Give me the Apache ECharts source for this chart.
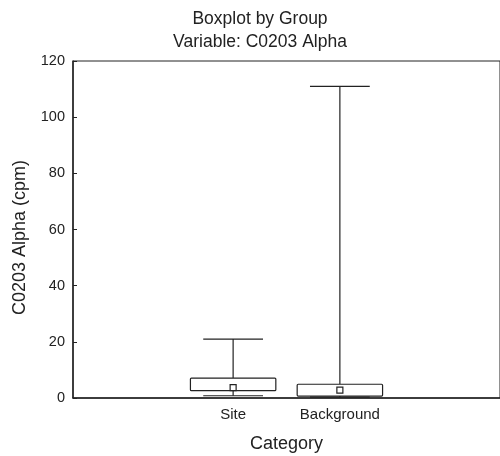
<!DOCTYPE html>
<html><head><meta charset="utf-8">
<script src="https://cdn.jsdelivr.net/npm/echarts@6/dist/echarts.min.js"></script>
<style>html,body{margin:0;padding:0;background:#fff}#c{width:500px;height:456px}</style>
</head><body><div id="c"></div>
<script>
var categories = ['', 'Site', 'Background', ''];
var yTicks = [0, 20, 40, 60, 80, 100, 120];
// [categoryIndex, min, q1, median, q3, max]
var siteStats = [1, 0.8, 2.6, 3.7, 7.1, 21];
var backgroundStats = [2, 0.3, 0.7, 2.8, 4.9, 111];

var chart = echarts.init(document.getElementById('c'));
var font = 'Liberation Sans, Arial, sans-serif';
function renderBox(params, api) {
  var x = api.value(0);
  var band = api.size([1, 0])[0];
  var pMin = api.coord([x, api.value(1)]);
  var pQ1 = api.coord([x, api.value(2)]);
  var pMed = api.coord([x, api.value(3)]);
  var pQ3 = api.coord([x, api.value(4)]);
  var pMax = api.coord([x, api.value(5)]);
  var bw = band * 0.8, cw = band * 0.56, cx = pMin[0];
  var st = {stroke: '#222', lineWidth: 1.2, fill: null};
  return {type: 'group', children: [
    {type: 'line', shape: {x1: cx, y1: pMin[1], x2: cx, y2: pQ1[1]}, style: st},
    {type: 'line', shape: {x1: cx, y1: pQ3[1], x2: cx, y2: pMax[1]}, style: st},
    {type: 'line', shape: {x1: cx - cw/2, y1: pMax[1], x2: cx + cw/2, y2: pMax[1]}, style: st},
    {type: 'line', shape: {x1: cx - cw/2, y1: pMin[1], x2: cx + cw/2, y2: pMin[1]}, style: st},
    {type: 'rect', shape: {x: cx - bw/2, y: pQ3[1], width: bw, height: pQ1[1] - pQ3[1], r: 1}, style: {stroke: '#222', lineWidth: 1.2, fill: '#fff'}},
    {type: 'rect', shape: {x: cx - 3, y: pMed[1] - 3, width: 6, height: 6}, style: {stroke: '#222', lineWidth: 1.2, fill: '#fff'}}
  ]};
}
chart.setOption({
  animation: false,
  textStyle: {fontFamily: font},
  title: {
    text: 'Boxplot by Group\nVariable: C0203 Alpha',
    left: 255, top: 3, textAlign: 'center',
    textStyle: {fontFamily: font, fontSize: 17.5, fontWeight: 'normal', color: '#222', lineHeight: 23}
  },
  grid: {left: 73, right: 0, top: 61, bottom: 58, show: true, borderColor: '#222', borderWidth: 1, outerBoundsMode: 'none', containLabel: false},
  xAxis: {
    type: 'category', data: categories, boundaryGap: true,
    name: 'Category', nameLocation: 'middle', nameGap: 37,
    nameTextStyle: {fontFamily: font, fontSize: 18, color: '#222'},
    axisLine: {lineStyle: {color: '#222', width: 1.5}},
    axisTick: {show: false},
    axisLabel: {fontFamily: font, fontSize: 15, color: '#222', margin: 9}
  },
  yAxis: {
    type: 'value', min: 0, max: 120, interval: 20,
    name: 'C0203 Alpha (cpm)', nameLocation: 'middle', nameGap: 44,
    nameTextStyle: {fontFamily: font, fontSize: 18, color: '#222', padding: [0, 16, 0, 0]},
    axisLine: {show: true, lineStyle: {color: '#222', width: 1.5}},
    axisTick: {show: true, inside: true, length: 4, lineStyle: {color: '#222'}},
    splitLine: {show: false},
    axisLabel: {fontFamily: font, fontSize: 14.5, color: '#222', margin: 8,
      formatter: function (v) { return yTicks.indexOf(v) >= 0 ? String(v) : ''; }}
  },
  series: [{
    type: 'custom', renderItem: renderBox,
    encode: {x: 0, y: [1, 2, 3, 4, 5]},
    data: [siteStats, backgroundStats]
  }]
});
</script></body></html>
